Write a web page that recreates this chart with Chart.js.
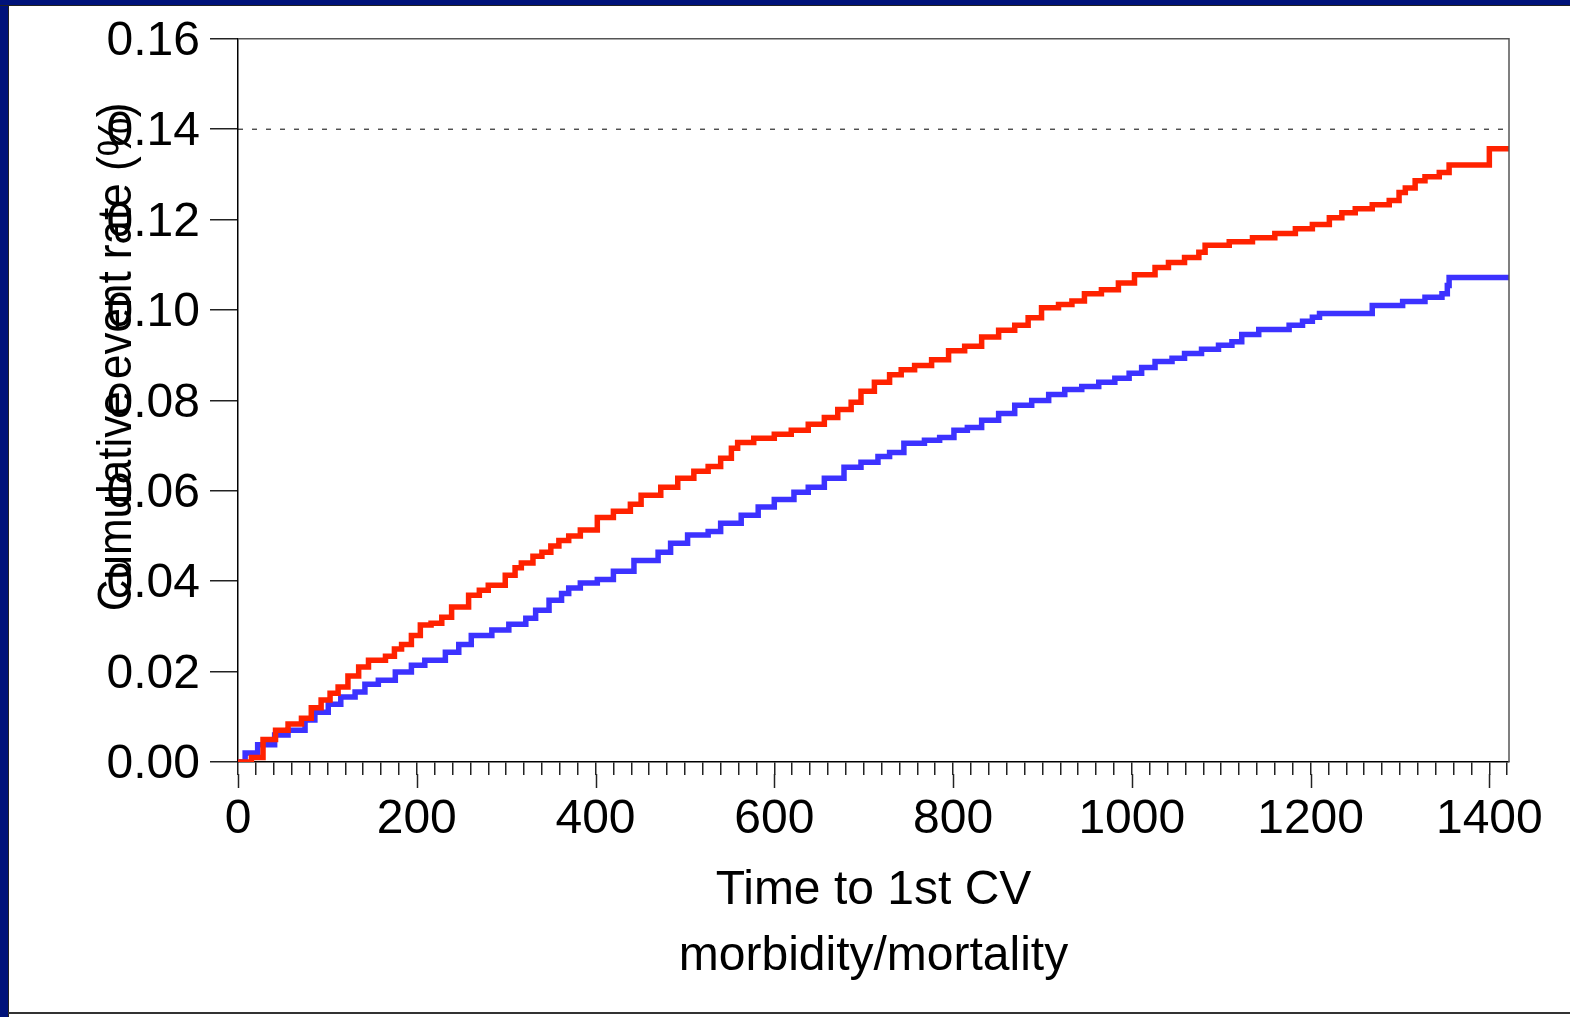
<!DOCTYPE html>
<html>
<head>
<meta charset="utf-8">
<script src="https://cdn.jsdelivr.net/npm/chart.js@4.4.1/dist/chart.umd.min.js"></script>
<style>
  body { margin: 0; background: #fff; overflow: hidden; }
  #wrap { position: relative; width: 1570px; height: 1017px; }
  #left-bar { position: absolute; left: 0; top: 0; width: 8px; height: 1017px; background: #00127a; border-right: 1px solid #222; }
  #top-bar { position: absolute; left: 0; top: 0; width: 1570px; height: 5px; background: #00127a; border-bottom: 1px solid #222; }
  #bottom-line { position: absolute; left: 8px; top: 1012px; width: 1562px; height: 2px; background: #333; }
  canvas { position: absolute; left: 0; top: 0; }
</style>
</head>
<body>
<div id="wrap">
  <canvas id="km-chart" width="1570" height="1017"></canvas>
  <div id="left-bar"></div>
  <div id="top-bar"></div>
  <div id="bottom-line"></div>
</div>
<script>
// Kaplan-Meier style curves, days vs cumulative event rate
const redTimes = [0, 15, 28, 42, 56, 71, 82, 93, 103, 112, 123, 135, 146, 165, 175, 183, 194, 204, 216, 228,
  239, 258, 270, 280, 299, 310, 317, 330, 340, 350, 359, 370, 383, 402, 420, 439, 451, 473, 492, 510,
  526, 540, 552, 559, 577, 600, 619, 638, 656, 671, 686, 697, 712, 729, 742, 757, 776, 795, 813, 832,
  851, 869, 884, 899, 918, 933, 947, 966, 985, 1003, 1026, 1041, 1059, 1075, 1082, 1109, 1135, 1160, 1183, 1202,
  1221, 1235, 1250, 1269, 1288, 1299, 1306, 1317, 1328, 1344, 1355, 1400, 1422];
const redRates = [0, 0.001, 0.005, 0.007, 0.0084, 0.0097, 0.012, 0.0137, 0.0152, 0.0166, 0.019, 0.021, 0.0225, 0.0234, 0.025, 0.026, 0.028, 0.0303, 0.0307, 0.032,
  0.0343, 0.0369, 0.038, 0.0391, 0.0413, 0.043, 0.044, 0.0455, 0.0464, 0.0478, 0.049, 0.050, 0.0513, 0.0541, 0.0555, 0.057, 0.059, 0.0608, 0.0628, 0.0643,
  0.0654, 0.0672, 0.0694, 0.0707, 0.0716, 0.0725, 0.0734, 0.0747, 0.0762, 0.078, 0.0796, 0.082, 0.084, 0.0857, 0.0868, 0.0877, 0.089, 0.091, 0.092, 0.094,
  0.0955, 0.0966, 0.0983, 0.1005, 0.1012, 0.102, 0.1036, 0.1045, 0.106, 0.1078, 0.1094, 0.1105, 0.1116, 0.1128, 0.1143, 0.1151, 0.116, 0.1169, 0.118, 0.1189,
  0.1204, 0.1215, 0.1224, 0.1233, 0.1242, 0.126, 0.127, 0.1286, 0.1295, 0.1304, 0.1321, 0.1357, 0.1357];

const blueTimes = [0, 8, 22, 41, 56, 75, 86, 101, 115, 131, 142, 157, 176, 194, 209, 232, 247, 261, 284, 303,
  322, 333, 348, 362, 370, 383, 402, 420, 443, 470, 484, 503, 526, 540, 563, 582, 600, 622, 638, 656,
  678, 697, 716, 729, 745, 768, 785, 801, 816, 832, 851, 869, 888, 907, 925, 944, 963, 981, 997, 1011,
  1026, 1045, 1059, 1078, 1097, 1112, 1123, 1142, 1176, 1191, 1202, 1210, 1269, 1303, 1328, 1347, 1353, 1355, 1422];
const blueRates = [0, 0.002, 0.0038, 0.006, 0.007, 0.0093, 0.011, 0.0128, 0.0144, 0.0155, 0.0172, 0.0181, 0.0199, 0.0214, 0.0225, 0.0243, 0.026, 0.028, 0.0292, 0.0305,
  0.0318, 0.0336, 0.0358, 0.0373, 0.0385, 0.0396, 0.0404, 0.0422, 0.0446, 0.0464, 0.0484, 0.0502, 0.051, 0.0528, 0.0546, 0.0564, 0.0581, 0.0597, 0.0608, 0.0628,
  0.0652, 0.0663, 0.0676, 0.0685, 0.0705, 0.0712, 0.0718, 0.0734, 0.074, 0.0756, 0.0771, 0.0789, 0.08, 0.0813, 0.0824, 0.0831, 0.084, 0.0849, 0.086, 0.0873,
  0.0886, 0.0893, 0.0904, 0.0913, 0.0922, 0.093, 0.0946, 0.0957, 0.0966, 0.0975, 0.0984, 0.0992, 0.101, 0.1019, 0.1028, 0.1036, 0.1054, 0.1072, 0.1072];

const refTimes = [0, 1422];
const refRates = [0.14, 0.14];

const xMajorTicks = [0, 200, 400, 600, 800, 1000, 1200, 1400];
const yTitle = "Cumulative event rate (%)";
const xTitle = ["Time to 1st CV", "morbidity/mortality"];

const toPoints = (xs, ys) => xs.map((x, i) => ({ x: x, y: ys[i] }));
const FONT = "'Liberation Sans', Arial, Helvetica, sans-serif";

// frame, long major ticks and rotated y title
const extrasPlugin = {
  id: "extras",
  afterDraw(chart) {
    const { ctx, chartArea, scales } = chart;
    ctx.save();
    ctx.strokeStyle = "#555";
    ctx.lineWidth = 1.5;
    ctx.beginPath();
    ctx.moveTo(chartArea.left, chartArea.top);
    ctx.lineTo(chartArea.right, chartArea.top);
    ctx.lineTo(chartArea.right, chartArea.bottom);
    ctx.stroke();

    ctx.strokeStyle = "#222";
    ctx.lineWidth = 1.5;
    xMajorTicks.forEach((v) => {
      const px = Math.round(scales.x.getPixelForValue(v)) + 0.5;
      ctx.beginPath();
      ctx.moveTo(px, chartArea.bottom + 12);
      ctx.lineTo(px, chartArea.bottom + 26);
      ctx.stroke();
    });

    ctx.translate(118, 357);
    ctx.rotate(-Math.PI / 2);
    ctx.scale(1, 1.08);
    ctx.fillStyle = "#000";
    ctx.font = "44px " + FONT;
    ctx.textAlign = "center";
    ctx.textBaseline = "middle";
    ctx.fillText(yTitle, 0, 0);
    ctx.restore();
  },
};

const ctx = document.getElementById("km-chart").getContext("2d");

new Chart(ctx, {
  type: "line",
  data: {
    datasets: [
      {
        data: toPoints(refTimes, refRates),
        borderColor: "#000",
        borderWidth: 1,
        borderDash: [5, 9],
        pointRadius: 0,
      },
      {
        data: toPoints(redTimes, redRates),
        borderColor: "#ff2200",
        borderWidth: 5.5,
        stepped: "before",
        pointRadius: 0,
      },
      {
        data: toPoints(blueTimes, blueRates),
        borderColor: "#3c32ff",
        borderWidth: 5.5,
        stepped: "before",
        pointRadius: 0,
      },
    ],
  },
  options: {
    responsive: false,
    animation: false,
    layout: { padding: { left: 0, top: 38, right: 61, bottom: 0 } },
    plugins: { legend: { display: false }, tooltip: { enabled: false } },
    scales: {
      x: {
        type: "linear",
        min: 0,
        max: 1422,
        afterFit: (scale) => { scale.height = 255; },
        border: { color: "#000", width: 1.5 },
        grid: { drawOnChartArea: false, tickLength: 13, color: "#222", lineWidth: 1.5 },
        ticks: {
          stepSize: 20,
          includeBounds: false,
          autoSkip: false,
          maxRotation: 0,
          padding: 16,
          color: "#000",
          font: { family: FONT, size: 48 },
          callback: (v) => (v % 200 === 0 ? String(v) : ""),
        },
        title: {
          display: true,
          text: xTitle,
          color: "#000",
          font: { family: FONT, size: 48, lineHeight: 1.36 },
          padding: { top: 0, bottom: 28 },
        },
      },
      y: {
        min: 0,
        max: 0.16,
        afterFit: (scale) => { scale.width = 238; },
        border: { color: "#000", width: 1.5 },
        grid: { drawOnChartArea: false, tickLength: 28, color: "#222", lineWidth: 1.5 },
        ticks: {
          stepSize: 0.02,
          padding: 10,
          labelOffset: 3,
          color: "#000",
          font: { family: FONT, size: 48 },
          callback: (v) => v.toFixed(2),
        },
      },
    },
  },
  plugins: [extrasPlugin],
});
</script>
</body>
</html>
